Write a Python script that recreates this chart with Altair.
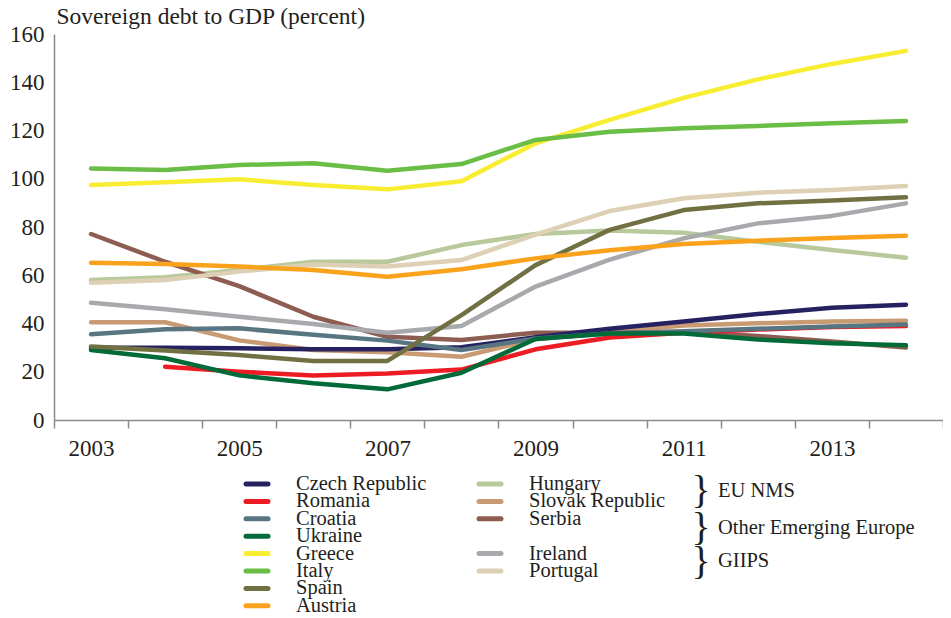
import altair as alt
import pandas as pd

years = list(range(2003, 2015))

czech = [30.0, 29.9, 29.7, 29.3, 29.3, 30.2, 34.3, 37.8, 40.8, 43.9, 46.5, 47.8]
romania = [None, 22.1, 20.0, 18.4, 19.3, 20.9, 29.3, 34.2, 36.2, 37.5, 38.5, 39.0]
croatia = [35.5, 37.6, 38.0, 35.3, 32.9, 29.0, 33.8, 35.9, 36.8, 37.8, 38.8, 39.6]
ukraine = [29.0, 25.6, 18.5, 15.2, 12.7, 19.6, 33.6, 35.9, 35.9, 33.4, 31.8, 31.0]
greece = [97.4, 98.5, 99.8, 97.4, 95.6, 99.0, 114.7, 124.4, 133.5, 141.2, 147.6, 153.0]
italy = [104.3, 103.6, 105.7, 106.4, 103.3, 106.1, 116.1, 119.5, 120.9, 121.9, 123.0, 123.9]
spain = [30.5, 28.8, 26.9, 24.5, 24.5, 43.5, 64.2, 78.8, 87.0, 89.8, 91.0, 92.3]
austria = [65.2, 64.7, 63.6, 62.2, 59.4, 62.5, 67.0, 70.4, 73.0, 74.3, 75.4, 76.4]
hungary = [58.0, 59.2, 62.2, 65.6, 65.6, 72.5, 77.1, 78.5, 77.6, 73.9, 70.5, 67.3]
slovak = [40.5, 40.5, 33.0, 29.0, 28.1, 26.2, 33.5, 36.6, 39.2, 40.1, 40.8, 41.1]
serbia = [77.1, 65.6, 55.5, 42.8, 34.5, 33.2, 36.2, 36.2, 36.5, 34.8, 32.5, 30.0]
ireland = [48.6, 45.9, 42.8, 39.8, 36.2, 39.0, 55.3, 66.5, 75.3, 81.5, 84.6, 89.8]
portugal = [56.9, 58.0, 61.5, 64.5, 63.6, 66.3, 76.8, 86.6, 91.9, 94.2, 95.3, 97.0]

# legend column 1, column 2 (top block), column 2 (bottom block)
group_a = ["Czech Republic", "Romania", "Croatia", "Ukraine", "Greece", "Italy", "Spain", "Austria"]
colors_a = ["#262262", "#ed1c24", "#587582", "#006a38", "#f9ed32", "#6abd45", "#717043", "#faa21b"]
group_b = ["Hungary", "Slovak Republic", "Serbia"]
colors_b = ["#b8c99b", "#c99b73", "#8e5d52"]
group_c = ["Ireland", "Portugal"]
colors_c = ["#a7a9ac", "#ddd0b4"]
group_labels = ["EU NMS", "Other Emerging Europe", "GIIPS"]

# legend slots (column, row) for every country
legend_col = [0] * 8 + [1, 1, 1] + [1, 1]
legend_row = [0, 1, 2, 3, 4, 5, 6, 7] + [0, 1, 2] + [4, 5]

series = {
    "Czech Republic": czech, "Romania": romania, "Croatia": croatia, "Ukraine": ukraine,
    "Greece": greece, "Italy": italy, "Spain": spain, "Austria": austria,
    "Hungary": hungary, "Slovak Republic": slovak, "Serbia": serbia,
    "Ireland": ireland, "Portugal": portugal,
}

rows = []
for name, vals in series.items():
    for yr, v in zip(years, vals):
        if v is not None:
            rows.append({"year": yr, "country": name, "debt": v})
df = pd.DataFrame(rows)

all_names = group_a + group_b + group_c
all_colors = colors_a + colors_b + colors_c
legend_df = pd.DataFrame({"country": all_names, "col": legend_col, "row": legend_row})

FONT = "Liberation Serif"
TXT = "#231f20"
AXC = "#8a8a8a"

color_scale = alt.Scale(domain=all_names, range=all_colors)

x_enc = alt.X(
    "year:O",
    scale=alt.Scale(type="band", domain=years, paddingInner=0, paddingOuter=0),
    bandPosition=0.5,
    axis=alt.Axis(
        title=None, labelAngle=0, tickBand="extent",
        labelExpr="datum.value % 2 == 1 ? datum.label : ''",
        labelFont=FONT, labelFontSize=23, labelColor=TXT, labelPadding=9,
        tickSize=8, tickColor=AXC, tickWidth=1.5, domainColor=AXC, domainWidth=1.5,
        grid=False,
    ),
)
y_enc = alt.Y(
    "debt:Q",
    scale=alt.Scale(domain=[0, 160], nice=False),
    axis=alt.Axis(
        values=list(range(0, 161, 20)), ticks=False, grid=False,
        title="Sovereign debt to GDP (percent)", titleAngle=0, titleX=2, titleY=-11,
        titleAlign="left", titleBaseline="alphabetic", titleFont=FONT,
        titleFontSize=23.5, titleFontWeight="normal", titleColor=TXT,
        labelFont=FONT, labelFontSize=23, labelColor=TXT, labelPadding=10,
        domainColor=AXC, domainWidth=1.5,
    ),
)


def lines(group):
    return (
        alt.Chart(df)
        .transform_filter(alt.FieldOneOfPredicate(field="country", oneOf=group))
        .mark_line(strokeWidth=4.5, strokeCap="round", strokeJoin="round")
        .encode(
            x=x_enc,
            y=y_enc,
            color=alt.Color("country:N", scale=color_scale, legend=None),
        )
    )


plot = alt.layer(lines(group_b), lines(group_c), lines(group_a))

# hand-made legend (two columns with a gap), drawn through its own scales
lx = alt.X("col:Q", scale=alt.Scale(domain=[0, 1], range=[203, 436]), axis=None)
ly = alt.Y("row:Q", scale=alt.Scale(domain=[0, 7], range=[450, 571.8], nice=False, zero=False), axis=None)
swatches = alt.Chart(legend_df).mark_point(
    shape="stroke", size=484, strokeWidth=5, strokeCap="round", filled=False, opacity=1
).encode(x=lx, y=ly, color=alt.Color("country:N", scale=color_scale, legend=None))
labels = alt.Chart(legend_df).mark_text(
    align="left", baseline="middle", dx=39, font=FONT, fontSize=20.5, color=TXT
).encode(x=lx, y=ly, text="country:N")
legend_layer = alt.layer(swatches, labels)


def note(text, px, py, size, align="left"):
    return alt.Chart(alt.Data(values=[{"t": text}])).mark_text(
        font=FONT, fontSize=size, color=TXT, align=align, baseline="middle"
    ).encode(text="t:N", x=alt.value(px), y=alt.value(py))


notes = [
    note(group_labels[0], 664, 457, 20.5),
    note(group_labels[1], 664, 494, 20.5),
    note(group_labels[2], 664, 527, 20.5),
    note("}", 647, 457, 40, "center"),
    note("}", 647, 494, 40, "center"),
    note("}", 647, 528, 40, "center"),
]

chart = (
    alt.layer(plot, legend_layer, *notes)
    .resolve_scale(x="independent", y="independent")
    .properties(
        width=889, height=386,
        autosize=alt.AutoSizeParams(type="none"),
        padding={"left": 46, "top": 26, "right": 0, "bottom": 196},
    )
    .configure_view(stroke=None)
)

chart.save("out.html", embed_options={"renderer": "svg", "actions": False})
